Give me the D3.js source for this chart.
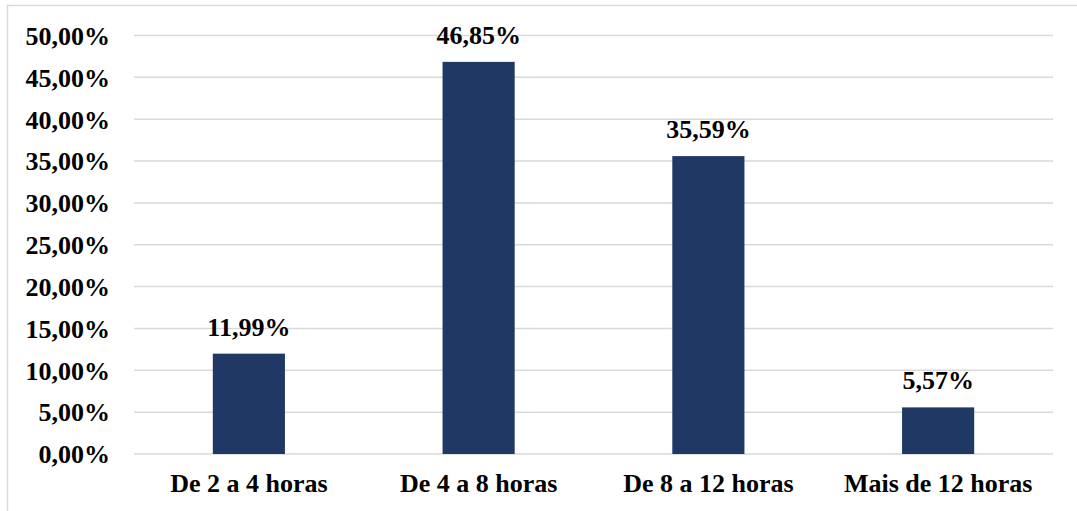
<!DOCTYPE html>
<html>
<head>
<meta charset="utf-8">
<script src="https://cdn.jsdelivr.net/npm/d3@7"></script>
<style>
  html, body { margin: 0; padding: 0; background: #ffffff; }
  svg { display: block; }
  text { font-family: "Liberation Serif", "Times New Roman", serif; font-weight: bold; fill: #000; }
</style>
</head>
<body>
<svg id="chart" width="1077" height="511"></svg>
<script>
// Distribution of hours per category
const categories = ["De 2 a 4 horas", "De 4 a 8 horas", "De 8 a 12 horas", "Mais de 12 horas"];
const values = [11.99, 46.85, 35.59, 5.57];
const tickValues = [0, 5, 10, 15, 20, 25, 30, 35, 40, 45, 50];

const fmt = v => v.toFixed(2).replace(".", ",") + "%";
const FONT = '"Liberation Serif", "Times New Roman", serif';
const FS = 26;

const svg = d3.select("#chart");
const W = 1077, H = 511;
const plot = { left: 134, right: 1053, top: 35.5, bottom: 454 };

// Chart-area border
svg.append("path")
  .attr("d", `M7.5,${H} V5.5 H${W}`)
  .attr("fill", "none")
  .attr("stroke", "#d9d9d9")
  .attr("stroke-width", 1.5);

const x = d3.scaleBand()
  .domain(categories)
  .range([plot.left, plot.right])
  .paddingInner(0.686)
  .paddingOuter(0.343);

const y = d3.scaleLinear()
  .domain([0, 50])
  .range([plot.bottom, plot.top]);

// Gridlines
svg.append("g")
  .selectAll("line")
  .data(tickValues)
  .join("line")
  .attr("x1", plot.left)
  .attr("x2", plot.right)
  .attr("y1", d => y(d))
  .attr("y2", d => y(d))
  .attr("stroke", "#d9d9d9")
  .attr("stroke-width", 1.5);

// Y axis labels
const yAxis = d3.axisLeft(y)
  .tickValues(tickValues)
  .tickFormat(fmt)
  .tickSize(0)
  .tickPadding(24);
const yg = svg.append("g")
  .attr("transform", `translate(${plot.left},0)`)
  .call(yAxis)
  .attr("font-family", FONT)
  .attr("font-size", FS);
yg.select(".domain").remove();
yg.selectAll("text")
  .attr("dy", "0.34em")
  .style("font-family", FONT)
  .style("font-size", FS + "px")
  .style("font-weight", "bold")
  .attr("fill", "#000");

// Bars
svg.append("g")
  .selectAll("rect")
  .data(values)
  .join("rect")
  .attr("x", (d, i) => x(categories[i]))
  .attr("width", x.bandwidth())
  .attr("y", d => y(d))
  .attr("height", d => y(0) - y(d))
  .attr("fill", "#203864");

// Value labels
svg.append("g")
  .selectAll("text")
  .data(values)
  .join("text")
  .attr("x", (d, i) => x(categories[i]) + x.bandwidth() / 2)
  .attr("y", d => y(d) - 18)
  .attr("text-anchor", "middle")
  .style("font-family", FONT)
  .style("font-size", FS + "px")
  .text(fmt);

// X axis labels
const xAxis = d3.axisBottom(x).tickSize(0).tickPadding(0);
const xg = svg.append("g")
  .attr("transform", `translate(0,${plot.bottom})`)
  .call(xAxis)
  .attr("font-family", FONT)
  .attr("font-size", FS);
xg.select(".domain").remove();
xg.selectAll("text")
  .attr("y", 38)
  .attr("dy", 0)
  .style("font-family", FONT)
  .style("font-size", FS + "px")
  .style("font-weight", "bold")
  .attr("fill", "#000");
</script>
</body>
</html>
